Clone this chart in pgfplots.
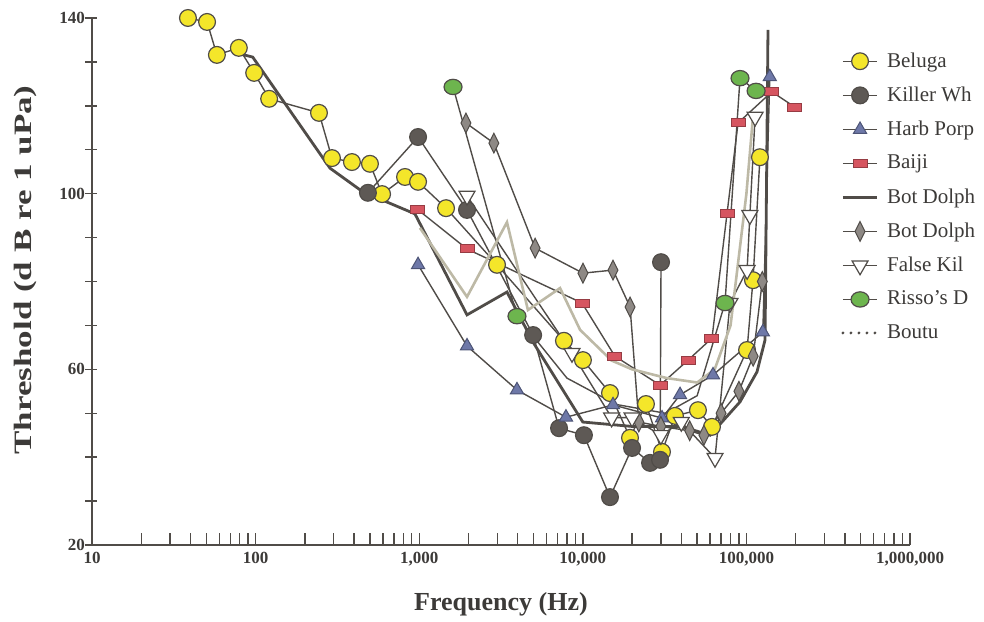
\documentclass[border=0pt]{standalone}
\usepackage{fontspec}
\setmainfont{Liberation Serif}
\usepackage{graphicx}
\usepackage{pgfplots}
\pgfplotsset{compat=1.18}
\definecolor{ln}{HTML}{504C48}
\definecolor{txt}{HTML}{3C3A38}
\definecolor{bel}{HTML}{F4E62A}
\definecolor{kw}{HTML}{5E5955}
\definecolor{hp}{HTML}{6E78A8}
\definecolor{bj}{HTML}{D65560}
\definecolor{bd}{HTML}{8E8985}
\definecolor{rd}{HTML}{6DB54E}
\definecolor{bt}{HTML}{BDB9A6}
\begin{document}
\begin{tikzpicture}
\useasboundingbox (-46pt,-38pt) rectangle (446pt,272.5pt);
\begin{axis}[
 at={(0,0)}, anchor=south west, scale only axis,
 width=409pt, height=263.5pt,
 xmode=log, xmin=10, xmax=1000000, ymin=20, ymax=140,
 axis x line=bottom, axis y line=left,
 axis line style={-, line width=1pt, color=ln},
 xtick={10,100,1000,10000,100000,1000000},
 xticklabels={10,100,{1{,}000},{10{,}000},{100{,}000},{1{,}000{,}000}},
 ytick={20,60,100,140}, yticklabels={20,60,100,140},
 minor ytick={30,40,50,70,80,90,110,120,130},
 /pgf/number format/assume math mode=true,
 tick align=inside,
 major tick length=6pt, minor tick length=6pt,
 tick style={color=ln, line width=0.7pt},
 y tick style={xshift=-3.5pt},
 every tick label/.append style={font=\bfseries\fontsize{8.5}{10}\selectfont, text=txt},
 xlabel={Frequency (Hz)},
 xlabel style={at={(axis description cs:0.5,-0.112)}, anchor=center, font=\bfseries\fontsize{13}{15}\selectfont, text=txt},
 ylabel={\scalebox{1.4}[1]{Threshold (d B re 1 uPa)}},
 ylabel style={at={(axis description cs:-0.0807,0.522)}, anchor=center, font=\bfseries\fontsize{12.5}{15}\selectfont, text=txt},
 legend style={at={(axis description cs:0.9156,0.943)}, anchor=north west, draw=none, fill=none,
   font=\fontsize{10.5}{13}\selectfont, text=txt, row sep=4.3pt, inner sep=0pt,
   /tikz/every odd column/.append style={column sep=2.2pt}},
 legend cell align=left,
 clip=false,
]
% Beluga
\addplot[ln, line width=0.7pt, mark=*, mark size=4.2pt, mark options={fill=bel, draw=ln, line width=0.6pt}] coordinates {
(38.6,140)(50.5,139.1)(58,131.6)(79,133.2)(98,127.5)(121,121.6)(244,118.4)(293,108.1)(388,107.2)(500,106.8)(593,99.9)(819,103.8)(984,102.7)(1459,96.7)(2990,83.8)(7670,66.5)(10020,62.1)(14660,54.6)(19430,44.4)(24330,52.1)(30480,41.2)(36580,49.4)(50570,50.7)(61600,46.9)(100900,64.4)(109700,80.3)(121000,108.3)};
\addlegendentry{Beluga}
% Killer whale
\addplot[ln, line width=0.7pt, mark=*, mark size=4.2pt, mark options={fill=kw, draw=ln, line width=0.6pt}] coordinates {
(486,100.2)(984,112.9)(1960,96.3)(4970,67.8)(7160,46.6)(10160,45.0)(14660,30.9)(20000,42.1)(25760,38.7)(29650,39.4)(30070,84.4)};
\addlegendentry{Killer Wh}
% Harbour porpoise
\addplot[ln, line width=0.7pt, mark=triangle*, mark size=3.8pt, mark options={fill=hp, draw=hp!70!black, line width=0.5pt}] coordinates {
(984,83.8)(1960,65.3)(3960,55.3)(7890,49.1)(15300,51.9)(30500,48.9)(39300,54.2)(62500,58.7)(126000,68.5)(139000,126.6)};
\addlegendentry{Harb Porp}
% Baiji
\addplot[ln, line width=0.7pt, mark=square*, mark size=2pt, mark options={fill=bj, draw=bj!70!black, line width=0.5pt, xscale=1.75}] coordinates {
(970,96.5)(1960,87.4)(9890,75.1)(15700,63.0)(29650,56.4)(44000,62.1)(61600,67.1)(76100,95.4)(88900,116.1)(143000,123.2)(198000,119.7)};
\addlegendentry{Baiji}
% Bottlenose dolphin (line)
\addplot[ln, line width=1.4pt, mark=none] coordinates {
(77,132)(96,131.1)(285,105.8)(453,100.4)(942,95.4)(1960,72.4)(3440,77.6)(5000,66)(10000,48)(20000,47)(40000,47)(60000,45)(91400,52.6)(116000,59.4)(130000,66.7)(135500,137.3)};
\addlegendentry{Bot Dolph}
% Bottlenose dolphin (diamonds)
\addplot[ln, line width=0.7pt, mark=diamond*, mark size=3.3pt, mark options={fill=bd, draw=ln, line width=0.5pt, yscale=1.5}] coordinates {
(1930,116.1)(2860,111.5)(5110,87.6)(10020,81.9)(15300,82.6)(19450,74.2)(22000,48)(30000,47)(45000,46)(55000,45)(70000,50)(90000,55)(110000,63)(125000,80)};
\addlegendentry{Bot Dolph}
% False killer whale
\addplot[ln, line width=0.7pt, mark=triangle*, mark size=4.6pt, mark options={fill=white, draw=ln, line width=0.6pt, rotate=180}] coordinates {
(1960,99.5)(8590,63.7)(15000,49)(20000,49)(30000,45)(40000,48)(64300,39.8)(79400,75.1)(101000,82.6)(105000,95.1)(113000,117.5)};
\addlegendentry{False Kil}
% Risso's dolphin
\addplot[ln, line width=0.7pt, mark=*, mark size=4.5pt, mark indices={1,2,7,8,9}, mark options={fill=rd, draw=ln, line width=0.6pt, yscale=0.85},
  legend image post style={mark indices={2}}] coordinates {
(1610,124.3)(3960,72.1)(8000,58)(16000,52)(32000,50)(50000,54)(74000,75.1)(91400,126.3)(114600,123.4)};
\addlegendentry{Risso's D}
% Boutu
\addplot[bt, line width=1.3pt, mark=none, forget plot] coordinates {
(1010,92.2)(1960,76.5)(3440,93.5)(4620,73.5)(7260,78.5)(9620,69)(15000,62)(20000,60)(32700,58)(50000,57)(64000,60)(80000,70)(100000,100)(110000,118)};
\addlegendimage{ln, line width=1.6pt, line cap=round, dash pattern=on 0pt off 4pt}
\addlegendentry{Boutu}
\end{axis}
\end{tikzpicture}
\end{document}
